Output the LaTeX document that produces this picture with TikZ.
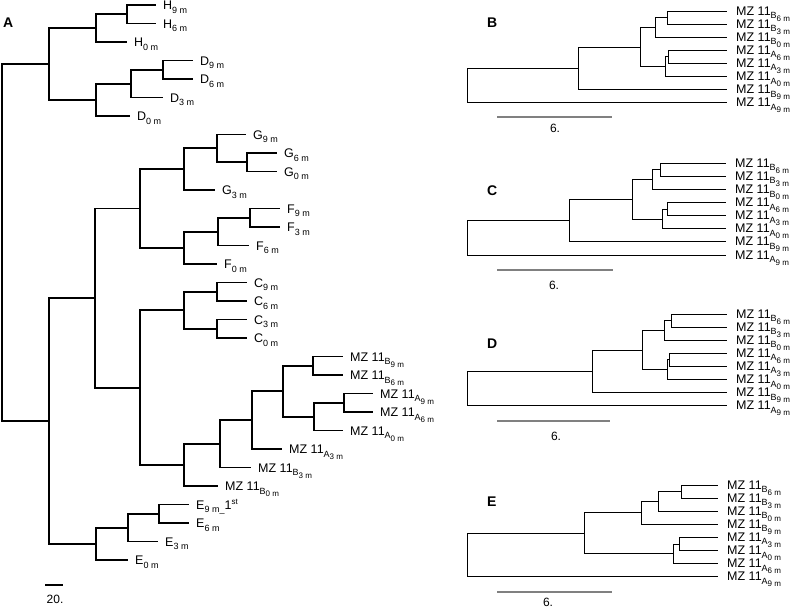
\documentclass[tikz,border=0pt]{standalone}
\usepackage{fontspec}
\setmainfont{Liberation Sans}
\newcommand\subl[1]{\raisebox{-3.5pt}{\fontsize{9}{9}\selectfont #1}}
\newcommand\subsubl[1]{\raisebox{-2.5pt}{\fontsize{8}{8}\selectfont #1}}
\newcommand\supl[1]{\raisebox{4.5pt}{\fontsize{8}{8}\selectfont #1}}
\begin{document}
\begin{tikzpicture}[x=1pt, y=-1pt,
  brA/.style={line width=1.9pt},
  brB/.style={line width=0.9pt},
  lblA/.style={anchor=base west, inner sep=0pt, xshift=7pt, yshift=-4.5pt, font=\fontsize{12.5}{12.5}\selectfont},
  lblB/.style={anchor=base west, inner sep=0pt, xshift=9pt, yshift=-4pt, font=\fontsize{12.5}{12.5}\selectfont},
  panel/.style={anchor=west, inner sep=0pt, font=\fontsize{14}{14}\selectfont\bfseries},
  barB/.style={line width=1.2pt, black!50},
  barlbl/.style={inner sep=0pt, font=\fontsize{12}{12}\selectfont}]
\useasboundingbox (0,0) rectangle (793,608);
\node[panel] (pA) at (3,23) {A};
\node[panel] (pB) at (487,23) {B};
\node[panel] (pC) at (487,191) {C};
\node[panel] (pD) at (487,344) {D};
\node[panel] (pE) at (487,502) {E};
\coordinate (H9) at (156,5);
\coordinate (H6) at (156,23.5);
\coordinate (H0) at (127,42);
\coordinate (D9) at (193,60.5);
\coordinate (D6) at (193,79);
\coordinate (D3) at (163,97.5);
\coordinate (D0) at (130,116);
\coordinate (G9) at (246,134.5);
\coordinate (G6) at (277,153);
\coordinate (G0) at (277,171.5);
\coordinate (G3) at (215,190);
\coordinate (F9) at (280,208.5);
\coordinate (F3) at (280,227);
\coordinate (F6) at (249,245.5);
\coordinate (F0) at (217,264);
\coordinate (C9) at (247,282.5);
\coordinate (C6) at (247,301);
\coordinate (C3) at (247,319.5);
\coordinate (C0) at (247,338);
\coordinate (MB9) at (343,356.5);
\coordinate (MB6) at (343,375);
\coordinate (MA9) at (373,393.5);
\coordinate (MA6) at (373,412);
\coordinate (MA0) at (343,430.5);
\coordinate (MA3) at (282,449);
\coordinate (MB3) at (251,467.5);
\coordinate (MB0) at (218,486);
\coordinate (E9) at (189,504.5);
\coordinate (E6) at (189,523);
\coordinate (E3) at (158,541.5);
\coordinate (E0) at (128,560);
\coordinate (nH1) at (127,14.25);
\coordinate (nH2) at (96,28.1);
\coordinate (nD1) at (163,69.75);
\coordinate (nD2) at (131,83.6);
\coordinate (nD3) at (96,99.8);
\coordinate (nHD) at (49,64);
\coordinate (nG1) at (247,162.25);
\coordinate (nG2) at (217,148.4);
\coordinate (nG3) at (184,169.2);
\coordinate (nF1) at (250,217.75);
\coordinate (nF2) at (218,231.6);
\coordinate (nF3) at (184,247.8);
\coordinate (nGF) at (140,208.5);
\coordinate (nC1) at (217,291.75);
\coordinate (nC2) at (217,328.75);
\coordinate (nC3) at (184,310.25);
\coordinate (nM1) at (313,365.75);
\coordinate (nM2) at (344,402.75);
\coordinate (nM3) at (314,416.6);
\coordinate (nM4) at (283,391.2);
\coordinate (nM5) at (252,420.1);
\coordinate (nM6) at (220,443.8);
\coordinate (nM7) at (184,464.9);
\coordinate (nCM) at (140,387.6);
\coordinate (nGC) at (95,298);
\coordinate (nE1) at (159,513.75);
\coordinate (nE2) at (128,527.6);
\coordinate (nE3) at (96,543.8);
\coordinate (nLow) at (49,420.9);
\coordinate (nRoot) at (2,242.5);
\draw[brA] (nH1) |- (H9) (nH1) |- (H6);
\draw[brA] (nH2) |- (nH1) (nH2) |- (H0);
\draw[brA] (nD1) |- (D9) (nD1) |- (D6);
\draw[brA] (nD2) |- (nD1) (nD2) |- (D3);
\draw[brA] (nD3) |- (nD2) (nD3) |- (D0);
\draw[brA] (nHD) |- (nH2) (nHD) |- (nD3);
\draw[brA] (nG1) |- (G6) (nG1) |- (G0);
\draw[brA] (nG2) |- (G9) (nG2) |- (nG1);
\draw[brA] (nG3) |- (nG2) (nG3) |- (G3);
\draw[brA] (nF1) |- (F9) (nF1) |- (F3);
\draw[brA] (nF2) |- (nF1) (nF2) |- (F6);
\draw[brA] (nF3) |- (nF2) (nF3) |- (F0);
\draw[brA] (nGF) |- (nG3) (nGF) |- (nF3);
\draw[brA] (nC1) |- (C9) (nC1) |- (C6);
\draw[brA] (nC2) |- (C3) (nC2) |- (C0);
\draw[brA] (nC3) |- (nC1) (nC3) |- (nC2);
\draw[brA] (nM1) |- (MB9) (nM1) |- (MB6);
\draw[brA] (nM2) |- (MA9) (nM2) |- (MA6);
\draw[brA] (nM3) |- (nM2) (nM3) |- (MA0);
\draw[brA] (nM4) |- (nM1) (nM4) |- (nM3);
\draw[brA] (nM5) |- (nM4) (nM5) |- (MA3);
\draw[brA] (nM6) |- (nM5) (nM6) |- (MB3);
\draw[brA] (nM7) |- (nM6) (nM7) |- (MB0);
\draw[brA] (nCM) |- (nC3) (nCM) |- (nM7);
\draw[brA] (nGC) |- (nGF) (nGC) |- (nCM);
\draw[brA] (nE1) |- (E9) (nE1) |- (E6);
\draw[brA] (nE2) |- (nE1) (nE2) |- (E3);
\draw[brA] (nE3) |- (nE2) (nE3) |- (E0);
\draw[brA] (nLow) |- (nGC) (nLow) |- (nE3);
\draw[brA] (nRoot) |- (nHD) (nRoot) |- (nLow);
\node[lblA] (tH9) at (H9) {H\subl{9 m}};
\node[lblA] (tH6) at (H6) {H\subl{6 m}};
\node[lblA] (tH0) at (H0) {H\subl{0 m}};
\node[lblA] (tD9) at (D9) {D\subl{9 m}};
\node[lblA] (tD6) at (D6) {D\subl{6 m}};
\node[lblA] (tD3) at (D3) {D\subl{3 m}};
\node[lblA] (tD0) at (D0) {D\subl{0 m}};
\node[lblA] (tG9) at (G9) {G\subl{9 m}};
\node[lblA] (tG6) at (G6) {G\subl{6 m}};
\node[lblA] (tG0) at (G0) {G\subl{0 m}};
\node[lblA] (tG3) at (G3) {G\subl{3 m}};
\node[lblA] (tF9) at (F9) {F\subl{9 m}};
\node[lblA] (tF3) at (F3) {F\subl{3 m}};
\node[lblA] (tF6) at (F6) {F\subl{6 m}};
\node[lblA] (tF0) at (F0) {F\subl{0 m}};
\node[lblA] (tC9) at (C9) {C\subl{9 m}};
\node[lblA] (tC6) at (C6) {C\subl{6 m}};
\node[lblA] (tC3) at (C3) {C\subl{3 m}};
\node[lblA] (tC0) at (C0) {C\subl{0 m}};
\node[lblA] (tMB9) at (MB9) {MZ 11\subl{B\subsubl{9 m}}};
\node[lblA] (tMB6) at (MB6) {MZ 11\subl{B\subsubl{6 m}}};
\node[lblA] (tMA9) at (MA9) {MZ 11\subl{A\subsubl{9 m}}};
\node[lblA] (tMA6) at (MA6) {MZ 11\subl{A\subsubl{6 m}}};
\node[lblA] (tMA0) at (MA0) {MZ 11\subl{A\subsubl{0 m}}};
\node[lblA] (tMA3) at (MA3) {MZ 11\subl{A\subsubl{3 m}}};
\node[lblA] (tMB3) at (MB3) {MZ 11\subl{B\subsubl{3 m}}};
\node[lblA] (tMB0) at (MB0) {MZ 11\subl{B\subsubl{0 m}}};
\node[lblA] (tE9) at (E9) {E\subl{9 m\_}1\supl{st}};
\node[lblA] (tE6) at (E6) {E\subl{6 m}};
\node[lblA] (tE3) at (E3) {E\subl{3 m}};
\node[lblA] (tE0) at (E0) {E\subl{0 m}};
\coordinate (sA1) at (45,585);
\coordinate (sA2) at (63,585);
\draw[brA] (sA1) -- (sA2);
\node[barlbl] (tsA) at (55,599) {20.};
\coordinate (bB6) at (727,11);
\coordinate (bB3) at (727,24.1);
\coordinate (bB0) at (727,37.2);
\coordinate (bA6) at (727,50.3);
\coordinate (bA3) at (727,63.4);
\coordinate (bA0) at (727,76.5);
\coordinate (bB9) at (727,89.6);
\coordinate (bA9) at (727,102.7);
\coordinate (bN1) at (667,17.55);
\coordinate (bN2) at (655,27.4);
\coordinate (bN3) at (668,56.85);
\coordinate (bN4) at (665,66.7);
\coordinate (bN5) at (640,47.05);
\coordinate (bN6) at (578,68.3);
\coordinate (bR) at (467,85.5);
\draw[brB] (bN1) |- (bB6) (bN1) |- (bB3);
\draw[brB] (bN2) |- (bN1) (bN2) |- (bB0);
\draw[brB] (bN3) |- (bA6) (bN3) |- (bA3);
\draw[brB] (bN4) |- (bN3) (bN4) |- (bA0);
\draw[brB] (bN5) |- (bN2) (bN5) |- (bN4);
\draw[brB] (bN6) |- (bN5) (bN6) |- (bB9);
\draw[brB] (bR) |- (bN6) (bR) |- (bA9);
\node[lblB] (tbB6) at (bB6) {MZ 11\subl{B\subsubl{6 m}}};
\node[lblB] (tbB3) at (bB3) {MZ 11\subl{B\subsubl{3 m}}};
\node[lblB] (tbB0) at (bB0) {MZ 11\subl{B\subsubl{0 m}}};
\node[lblB] (tbA6) at (bA6) {MZ 11\subl{A\subsubl{6 m}}};
\node[lblB] (tbA3) at (bA3) {MZ 11\subl{A\subsubl{3 m}}};
\node[lblB] (tbA0) at (bA0) {MZ 11\subl{A\subsubl{0 m}}};
\node[lblB] (tbB9) at (bB9) {MZ 11\subl{B\subsubl{9 m}}};
\node[lblB] (tbA9) at (bA9) {MZ 11\subl{A\subsubl{9 m}}};
\coordinate (sB1) at (497,117);
\coordinate (sB2) at (612,117);
\draw[barB] (sB1) -- (sB2);
\node[barlbl] (tsB) at (555,128) {6.};
\coordinate (cB6) at (726,163.3);
\coordinate (cB3) at (726,176.4);
\coordinate (cB0) at (726,189.5);
\coordinate (cA6) at (726,202.6);
\coordinate (cA3) at (726,215.7);
\coordinate (cA0) at (726,228.8);
\coordinate (cB9) at (726,241.9);
\coordinate (cA9) at (726,255);
\coordinate (cN1) at (660,169.85);
\coordinate (cN2) at (652,179.7);
\coordinate (cN3) at (667,209.15);
\coordinate (cN4) at (662,219);
\coordinate (cN5) at (632,199.35);
\coordinate (cN6) at (569,220.6);
\coordinate (cR) at (467,237.8);
\draw[brB] (cN1) |- (cB6) (cN1) |- (cB3);
\draw[brB] (cN2) |- (cN1) (cN2) |- (cB0);
\draw[brB] (cN3) |- (cA6) (cN3) |- (cA3);
\draw[brB] (cN4) |- (cN3) (cN4) |- (cA0);
\draw[brB] (cN5) |- (cN2) (cN5) |- (cN4);
\draw[brB] (cN6) |- (cN5) (cN6) |- (cB9);
\draw[brB] (cR) |- (cN6) (cR) |- (cA9);
\node[lblB] (tcB6) at (cB6) {MZ 11\subl{B\subsubl{6 m}}};
\node[lblB] (tcB3) at (cB3) {MZ 11\subl{B\subsubl{3 m}}};
\node[lblB] (tcB0) at (cB0) {MZ 11\subl{B\subsubl{0 m}}};
\node[lblB] (tcA6) at (cA6) {MZ 11\subl{A\subsubl{6 m}}};
\node[lblB] (tcA3) at (cA3) {MZ 11\subl{A\subsubl{3 m}}};
\node[lblB] (tcA0) at (cA0) {MZ 11\subl{A\subsubl{0 m}}};
\node[lblB] (tcB9) at (cB9) {MZ 11\subl{B\subsubl{9 m}}};
\node[lblB] (tcA9) at (cA9) {MZ 11\subl{A\subsubl{9 m}}};
\coordinate (sC1) at (497,270);
\coordinate (sC2) at (613,270);
\draw[barB] (sC1) -- (sC2);
\node[barlbl] (tsC) at (554,285) {6.};
\coordinate (dB6) at (727,314);
\coordinate (dB3) at (727,327.1);
\coordinate (dB0) at (727,340.2);
\coordinate (dA6) at (727,353.3);
\coordinate (dA3) at (727,366.4);
\coordinate (dA0) at (727,379.5);
\coordinate (dB9) at (727,392.6);
\coordinate (dA9) at (727,405.7);
\coordinate (dN1) at (671,320.55);
\coordinate (dN2) at (664,330.4);
\coordinate (dN3) at (669,359.85);
\coordinate (dN4) at (667,369.7);
\coordinate (dN5) at (642,350.05);
\coordinate (dN6) at (592,371.3);
\coordinate (dR) at (467,388.5);
\draw[brB] (dN1) |- (dB6) (dN1) |- (dB3);
\draw[brB] (dN2) |- (dN1) (dN2) |- (dB0);
\draw[brB] (dN3) |- (dA6) (dN3) |- (dA3);
\draw[brB] (dN4) |- (dN3) (dN4) |- (dA0);
\draw[brB] (dN5) |- (dN2) (dN5) |- (dN4);
\draw[brB] (dN6) |- (dN5) (dN6) |- (dB9);
\draw[brB] (dR) |- (dN6) (dR) |- (dA9);
\node[lblB] (tdB6) at (dB6) {MZ 11\subl{B\subsubl{6 m}}};
\node[lblB] (tdB3) at (dB3) {MZ 11\subl{B\subsubl{3 m}}};
\node[lblB] (tdB0) at (dB0) {MZ 11\subl{B\subsubl{0 m}}};
\node[lblB] (tdA6) at (dA6) {MZ 11\subl{A\subsubl{6 m}}};
\node[lblB] (tdA3) at (dA3) {MZ 11\subl{A\subsubl{3 m}}};
\node[lblB] (tdA0) at (dA0) {MZ 11\subl{A\subsubl{0 m}}};
\node[lblB] (tdB9) at (dB9) {MZ 11\subl{B\subsubl{9 m}}};
\node[lblB] (tdA9) at (dA9) {MZ 11\subl{A\subsubl{9 m}}};
\coordinate (sD1) at (497,421);
\coordinate (sD2) at (610,421);
\draw[barB] (sD1) -- (sD2);
\node[barlbl] (tsD) at (556,436) {6.};
\coordinate (eB6) at (718,485);
\coordinate (eB3) at (718,498.1);
\coordinate (eB0) at (718,511.2);
\coordinate (eB9) at (718,524.3);
\coordinate (eA3) at (718,537.4);
\coordinate (eA0) at (718,550.5);
\coordinate (eA6) at (718,563.6);
\coordinate (eA9) at (718,576.7);
\coordinate (eN1) at (681,491.55);
\coordinate (eN2) at (658,501.4);
\coordinate (eN3) at (641,512.85);
\coordinate (eN4) at (679,543.95);
\coordinate (eN5) at (673,553.8);
\coordinate (eN6) at (584,533.3);
\coordinate (eR) at (467,555);
\draw[brB] (eN1) |- (eB6) (eN1) |- (eB3);
\draw[brB] (eN2) |- (eN1) (eN2) |- (eB0);
\draw[brB] (eN3) |- (eN2) (eN3) |- (eB9);
\draw[brB] (eN4) |- (eA3) (eN4) |- (eA0);
\draw[brB] (eN5) |- (eN4) (eN5) |- (eA6);
\draw[brB] (eN6) |- (eN3) (eN6) |- (eN5);
\draw[brB] (eR) |- (eN6) (eR) |- (eA9);
\node[lblB] (teB6) at (eB6) {MZ 11\subl{B\subsubl{6 m}}};
\node[lblB] (teB3) at (eB3) {MZ 11\subl{B\subsubl{3 m}}};
\node[lblB] (teB0) at (eB0) {MZ 11\subl{B\subsubl{0 m}}};
\node[lblB] (teB9) at (eB9) {MZ 11\subl{B\subsubl{9 m}}};
\node[lblB] (teA3) at (eA3) {MZ 11\subl{A\subsubl{3 m}}};
\node[lblB] (teA0) at (eA0) {MZ 11\subl{A\subsubl{0 m}}};
\node[lblB] (teA6) at (eA6) {MZ 11\subl{A\subsubl{6 m}}};
\node[lblB] (teA9) at (eA9) {MZ 11\subl{A\subsubl{9 m}}};
\coordinate (sE1) at (497,592);
\coordinate (sE2) at (612,592);
\draw[barB] (sE1) -- (sE2);
\node[barlbl] (tsE) at (548,602) {6.};
\end{tikzpicture}
\end{document}
